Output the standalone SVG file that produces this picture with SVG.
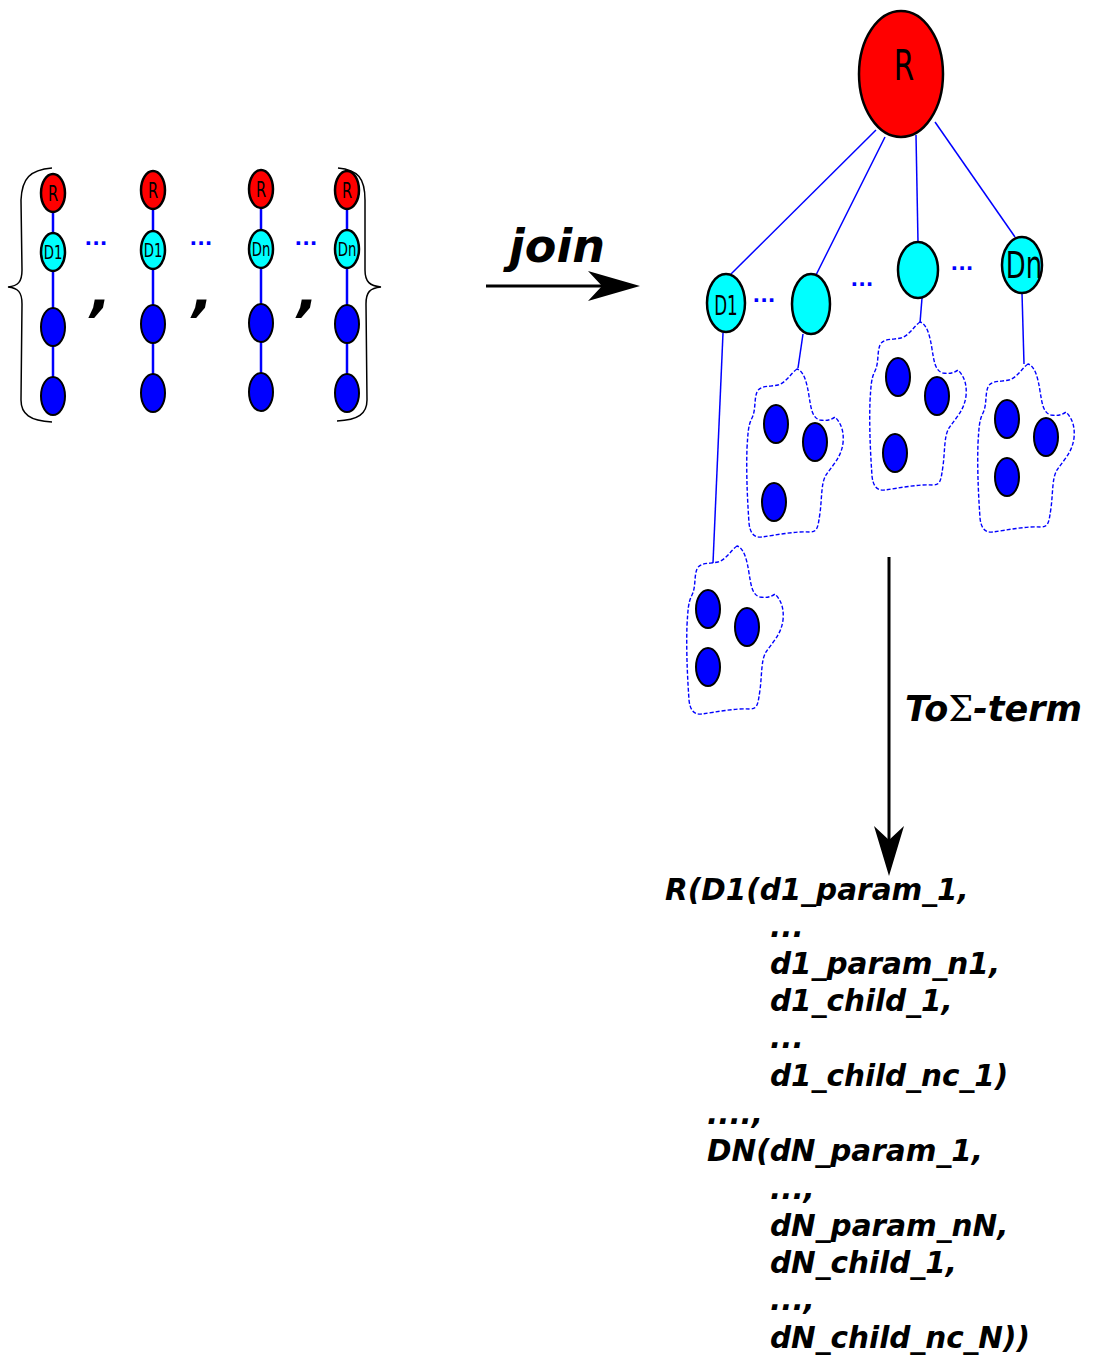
<svg xmlns="http://www.w3.org/2000/svg" width="1096" height="1357" viewBox="0 0 1096 1357">
<style>
.r{fill:#ff0000;stroke:#000;stroke-width:2.5}
.c{fill:#00ffff;stroke:#000;stroke-width:2.5}
.b{fill:#0000ff;stroke:#000;stroke-width:2}
.lbl{font-family:"DejaVu Sans",sans-serif;fill:#000;text-anchor:middle}
.ed{stroke:#0000ff;stroke-width:2.5;fill:none}
.te{stroke:#0000ff;stroke-width:1.5;fill:none}
.blob{fill:none;stroke:#0000ff;stroke-width:1.4;stroke-dasharray:4,2}
.dots{font-family:"DejaVu Sans",sans-serif;font-weight:bold;fill:#0000ff;font-size:20px;text-anchor:middle}
.bi{font-family:"DejaVu Sans",sans-serif;font-weight:bold;font-style:italic;fill:#000}
.term{font-family:"DejaVu Sans",sans-serif;font-weight:bold;font-style:italic;fill:#000;font-size:29.5px}
.brace{fill:none;stroke:#000;stroke-width:1.5}
.arr{stroke:#000;stroke-width:3;fill:none}
</style>
<defs>
<path id="blobshape" d="M51,1 C45,5 40,15 32,17 C24,19 14,17 11,24 C8,31 10,42 6,50 C2,58 2,65 1,80 C0,110 2,140 3,155 C4,165 8,170 16,169 C30,167 50,163 64,164 C72,164 72,158 74,145 C76,130 75,115 80,107 C86,98 95,90 97,75 C98,65 96,56 89,49 C85,52 80,53 74,52 C66,50 65,40 63,28 C61,15 58,3 51,1 Z"/>
</defs>

<g id="connectors">
  <line class="ed" x1="53" y1="212" x2="53" y2="233"/>
  <line class="ed" x1="53" y1="271" x2="53" y2="308"/>
  <line class="ed" x1="53" y1="346" x2="53" y2="377"/>
  <line class="ed" x1="153" y1="209" x2="153" y2="231"/>
  <line class="ed" x1="153" y1="269" x2="153" y2="305"/>
  <line class="ed" x1="153" y1="343" x2="153" y2="374"/>
  <line class="ed" x1="261" y1="208" x2="261" y2="230"/>
  <line class="ed" x1="261" y1="268" x2="261" y2="304"/>
  <line class="ed" x1="261" y1="342" x2="261" y2="373"/>
  <line class="ed" x1="347" y1="209" x2="347" y2="230"/>
  <line class="ed" x1="347" y1="268" x2="347" y2="305"/>
  <line class="ed" x1="347" y1="343" x2="347" y2="374"/>
  <line class="te" x1="876" y1="130" x2="731" y2="274"/>
  <line class="te" x1="885" y1="137" x2="816" y2="275"/>
  <line class="te" x1="916" y1="135" x2="918" y2="242"/>
  <line class="te" x1="935" y1="122" x2="1015" y2="237"/>
  <line class="te" x1="723" y1="333" x2="713" y2="563"/>
  <line class="te" x1="803" y1="334" x2="798" y2="368"/>
  <line class="te" x1="922" y1="298" x2="920" y2="323"/>
  <line class="te" x1="1022" y1="293" x2="1024" y2="364"/>
  <line class="arr" x1="486" y1="286" x2="605" y2="286"/>
  <path d="M640,286 L588,271 L602,286 L588,301 Z" fill="#000"/>
  <line class="arr" x1="889" y1="557" x2="889" y2="845"/>
  <path d="M889,876 L874,826 L889,840 L904,826 Z" fill="#000"/>
</g>

<g id="braces">
  <path class="brace" d="M52,168 C30,170 22,178 21,200 L22,270 C22,282 18,286 8,287 C18,288 22,292 22,304 L21,400 C21,414 30,421 52,422"/>
  <path class="brace" d="M338,168 C358,170 365,178 365,200 L365,270 C365,282 370,286 381,287 C370,288 366,292 366,304 L367,400 C367,414 358,420 337,421"/>
</g>

<g id="col1">
  <ellipse class="r" cx="53" cy="193" rx="12" ry="19"/><text class="lbl" transform="translate(53,201) scale(0.7,1)" font-size="21">R</text>
  <ellipse class="c" cx="53" cy="252" rx="12" ry="19"/><text class="lbl" transform="translate(53,259) scale(0.7,1)" font-size="19">D1</text>
  <ellipse class="b" cx="53" cy="327" rx="12" ry="19"/>
  <ellipse class="b" cx="53" cy="396" rx="12" ry="19"/>
</g>
<g id="col2">
  <ellipse class="r" cx="153" cy="190" rx="12" ry="19"/><text class="lbl" transform="translate(153,198) scale(0.7,1)" font-size="21">R</text>
  <ellipse class="c" cx="153" cy="250" rx="12" ry="19"/><text class="lbl" transform="translate(153,257) scale(0.7,1)" font-size="19">D1</text>
  <ellipse class="b" cx="153" cy="324" rx="12" ry="19"/>
  <ellipse class="b" cx="153" cy="393" rx="12" ry="19"/>
</g>
<g id="col3">
  <ellipse class="r" cx="261" cy="189" rx="12" ry="19"/><text class="lbl" transform="translate(261,197) scale(0.7,1)" font-size="21">R</text>
  <ellipse class="c" cx="261" cy="249" rx="12" ry="19"/><text class="lbl" transform="translate(261,256) scale(0.7,1)" font-size="19">Dn</text>
  <ellipse class="b" cx="261" cy="323" rx="12" ry="19"/>
  <ellipse class="b" cx="261" cy="392" rx="12" ry="19"/>
</g>
<g id="col4">
  <ellipse class="r" cx="347" cy="190" rx="12" ry="19"/><text class="lbl" transform="translate(347,198) scale(0.7,1)" font-size="21">R</text>
  <ellipse class="c" cx="347" cy="249" rx="12" ry="19"/><text class="lbl" transform="translate(347,256) scale(0.7,1)" font-size="19">Dn</text>
  <ellipse class="b" cx="347" cy="324" rx="12" ry="19"/>
  <ellipse class="b" cx="347" cy="393" rx="12" ry="19"/>
</g>

<g id="left-separators">
  <text class="dots" x="96" y="245">...</text>
  <text class="dots" x="201" y="245">...</text>
  <text class="dots" x="306" y="245">...</text>
  <text class="bi" x="101" y="310" font-size="56" text-anchor="middle">,</text>
  <text class="bi" x="203" y="310" font-size="56" text-anchor="middle">,</text>
  <text class="bi" x="308" y="310" font-size="56" text-anchor="middle">,</text>
</g>

<g id="join-label"><text class="bi" x="557" y="262" font-size="46" text-anchor="middle">join</text></g>

<g id="root">
  <ellipse class="r" cx="901" cy="74" rx="42" ry="63" stroke-width="3"/>
  <text class="lbl" transform="translate(904,80) scale(0.7,1)" font-size="42">R</text>
</g>
<g id="d1">
  <ellipse class="c" cx="726" cy="303" rx="19" ry="29" stroke-width="3"/>
  <text class="lbl" transform="translate(726,315) scale(0.62,1)" font-size="27">D1</text>
</g>
<g id="d2">
  <ellipse class="c" cx="811" cy="304" rx="19" ry="30" stroke-width="3"/>
</g>
<g id="d3">
  <ellipse class="c" cx="918" cy="270" rx="20" ry="28" stroke-width="3"/>
</g>
<g id="dn">
  <ellipse class="c" cx="1022" cy="265" rx="20" ry="28" stroke-width="3"/>
  <text class="lbl" transform="translate(1024,278) scale(0.7,1)" font-size="37">Dn</text>
</g>
<g id="tree-dots">
  <text class="dots" x="764" y="302">...</text>
  <text class="dots" x="862" y="286">...</text>
  <text class="dots" x="962" y="270">...</text>
</g>

<g id="blob-d1">
  <use href="#blobshape" class="blob" x="686" y="545"/>
  <ellipse class="b" cx="708" cy="609" rx="12" ry="19"/>
  <ellipse class="b" cx="747" cy="627" rx="12" ry="19"/>
  <ellipse class="b" cx="708" cy="667" rx="12" ry="19"/>
</g>
<g id="blob-d2">
  <use href="#blobshape" class="blob" x="746" y="368"/>
  <ellipse class="b" cx="776" cy="424" rx="12" ry="19"/>
  <ellipse class="b" cx="815" cy="442" rx="12" ry="19"/>
  <ellipse class="b" cx="774" cy="502" rx="12" ry="19"/>
</g>
<g id="blob-d3">
  <use href="#blobshape" class="blob" x="869" y="321"/>
  <ellipse class="b" cx="898" cy="377" rx="12" ry="19"/>
  <ellipse class="b" cx="937" cy="396" rx="12" ry="19"/>
  <ellipse class="b" cx="895" cy="453" rx="12" ry="19"/>
</g>
<g id="blob-dn">
  <use href="#blobshape" class="blob" x="977" y="363"/>
  <ellipse class="b" cx="1007" cy="419" rx="12" ry="19"/>
  <ellipse class="b" cx="1046" cy="437" rx="12" ry="19"/>
  <ellipse class="b" cx="1007" cy="477" rx="12" ry="19"/>
</g>

<g id="to-sigma-label">
  <text class="bi" x="905" y="721" font-size="35">To<tspan font-family="'DejaVu Serif',serif" font-weight="normal" font-style="normal">Σ</tspan>-term</text>
</g>

<g id="term">
  <text class="term" x="665" y="900">R(D1(d1_param_1,</text>
  <text class="term" x="770" y="937">...</text>
  <text class="term" x="770" y="974">d1_param_n1,</text>
  <text class="term" x="770" y="1011">d1_child_1,</text>
  <text class="term" x="770" y="1048">...</text>
  <text class="term" x="770" y="1086">d1_child_nc_1)</text>
  <text class="term" x="707" y="1124">....,</text>
  <text class="term" x="707" y="1161">DN(dN_param_1,</text>
  <text class="term" x="770" y="1199">...,</text>
  <text class="term" x="770" y="1236">dN_param_nN,</text>
  <text class="term" x="770" y="1273">dN_child_1,</text>
  <text class="term" x="770" y="1310">...,</text>
  <text class="term" x="770" y="1348">dN_child_nc_N))</text>
</g>
</svg>
